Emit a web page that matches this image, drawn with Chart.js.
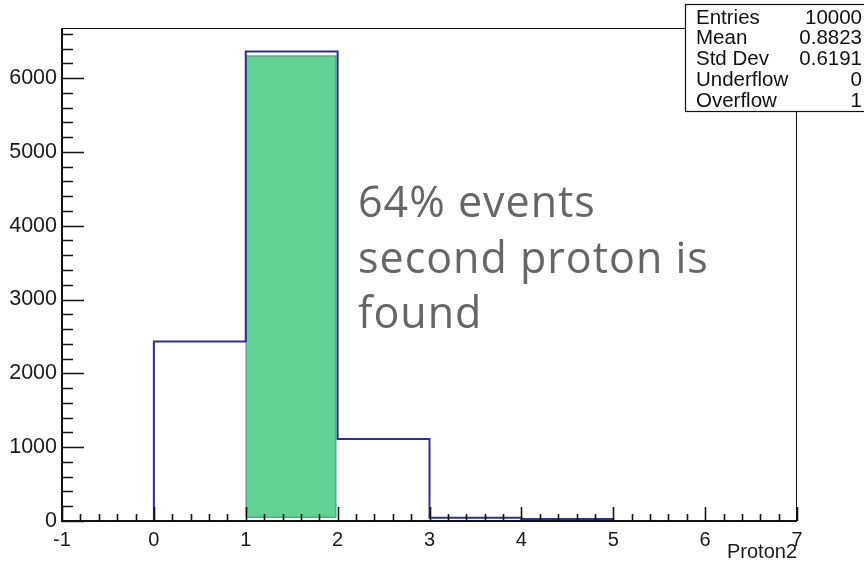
<!DOCTYPE html>
<html>
<head>
<meta charset="utf-8">
<script src="https://cdn.jsdelivr.net/npm/chart.js@4.4.1/dist/chart.umd.min.js"></script>
<style>
  html, body { margin: 0; padding: 0; background: #fff; }
  #wrap { position: relative; width: 864px; height: 564px; }
</style>
</head>
<body>
<div id="wrap"><canvas id="c" width="864" height="564"></canvas></div>
<script>
// Proton2 multiplicity: unit-width bins from -1 to 7
const binLowEdges = [-1, 0, 1, 2, 3, 4, 5, 6];
const binUpperEdge = 7;
const binCounts = [0, 2430, 6360, 1110, 45, 28, 0, 0];

// events in which the second proton is found
const foundBin = [1, 2];
const foundCount = 6300;

// axis ticks
const xTickValues = [-1, 0, 1, 2, 3, 4, 5, 6, 7];
const yTickValues = [0, 1000, 2000, 3000, 4000, 5000, 6000];

// statistics box
const statsLabels = ['Entries', 'Mean', 'Std Dev', 'Underflow', 'Overflow'];
const statsValues = ['10000', '0.8823', '0.6191', '0', '1'];

// annotation
const noteLines = ['64% events', 'second proton is', 'found'];

const AXIS_FONT = '"Liberation Sans", Arial, sans-serif';

// histogram outline as a step line through the bin low edges
const outlinePoints = binLowEdges.map((e, i) => ({ x: e, y: binCounts[i] }))
  .concat([{ x: binUpperEdge, y: 0 }]);

// filled box for the "found" bin, drawn slightly inside the bin
const foundPoints = [
  { x: foundBin[0] + 0.005, y: 50 },
  { x: foundBin[0] + 0.005, y: foundCount },
  { x: foundBin[1] - 0.02, y: foundCount },
  { x: foundBin[1] - 0.02, y: 50 },
  { x: foundBin[0] + 0.005, y: 50 }
];

const yMax = Math.max(...binCounts) * 1.05;

// ROOT-style frame with inward major/minor ticks, stats box and note
const rootDecor = {
  id: 'rootDecor',
  afterDatasetsDraw(chart) {
    const { ctx, chartArea: a, scales: { x, y } } = chart;
    ctx.save();
    ctx.strokeStyle = '#111';
    ctx.lineWidth = 1;
    ctx.strokeRect(a.left + 0.5, a.top + 0.5, a.right - a.left - 1, a.bottom - a.top);

    ctx.lineWidth = 2;
    ctx.beginPath();
    ctx.moveTo(a.left, a.top);
    ctx.lineTo(a.left, a.bottom);
    ctx.lineTo(a.right, a.bottom);
    ctx.stroke();

    // x ticks: majors every 1, minors every 0.2
    ctx.lineWidth = 1.6;
    ctx.beginPath();
    for (let k = 0; k <= Math.round((x.max - x.min) / 0.2); k++) {
      const v = x.min + k * 0.2;
      const major = k % 5 === 0;
      const px = Math.round(x.getPixelForValue(v)) + 0.5;
      ctx.moveTo(px, a.bottom);
      ctx.lineTo(px, a.bottom - (major ? 14 : 7));
    }
    ctx.stroke();

    // y ticks: majors every 1000, minors every 200
    ctx.beginPath();
    for (let k = 0; k * 200 <= y.max; k++) {
      const v = k * 200;
      const major = k % 5 === 0;
      const py = Math.round(y.getPixelForValue(v)) + 0.5;
      ctx.moveTo(a.left, py);
      ctx.lineTo(a.left + (major ? 22 : 11), py);
    }
    ctx.stroke();
    ctx.restore();
  },
  afterDraw(chart) {
    const { ctx } = chart;
    ctx.save();
    // statistics box
    const bx = 685, by = 4, bw = 200, bh = 107;
    ctx.fillStyle = '#fff';
    ctx.fillRect(bx, by, bw, bh);
    ctx.strokeStyle = '#111';
    ctx.lineWidth = 1.2;
    ctx.strokeRect(bx + 0.5, by + 0.5, bw, bh);
    ctx.fillStyle = '#111';
    ctx.font = '20.5px ' + AXIS_FONT;
    ctx.textBaseline = 'middle';
    statsLabels.forEach((lab, i) => {
      const ty = 18 + i * 20.8;
      ctx.textAlign = 'left';
      ctx.fillText(lab, 696, ty);
      ctx.textAlign = 'right';
      ctx.fillText(statsValues[i], 862, ty);
    });

    // annotation text
    ctx.fillStyle = '#666';
    ctx.font = '400 43px "Open Sans", Lato, sans-serif';
    ctx.letterSpacing = '1px';
    ctx.textAlign = 'left';
    ctx.textBaseline = 'alphabetic';
    noteLines.forEach((t, i) => ctx.fillText(t, 358, 217 + i * 55.5));
    ctx.restore();
  }
};

new Chart(document.getElementById('c'), {
  type: 'scatter',
  data: {
    datasets: [
      {
        label: 'Proton2',
        data: outlinePoints,
        showLine: true,
        stepped: 'before',
        borderColor: '#2c2ca0',
        borderWidth: 2,
        pointRadius: 0,
        fill: false
      },
      {
        label: 'found',
        data: foundPoints,
        showLine: true,
        borderColor: '#4fb37f',
        borderWidth: 1.5,
        backgroundColor: '#62d196',
        pointRadius: 0,
        fill: 'shape'
      }
    ]
  },
  options: {
    responsive: false,
    animation: false,
    events: [],
    layout: { padding: { top: 28, right: 67, bottom: 0, left: 0 } },
    plugins: { legend: { display: false }, tooltip: { enabled: false } },
    scales: {
      x: {
        type: 'linear',
        min: -1,
        max: 7,
        grid: { display: false, drawTicks: false },
        border: { display: false },
        afterBuildTicks: s => { s.ticks = xTickValues.map(v => ({ value: v })); },
        afterFit: s => { s.height = 43; },
        ticks: {
          padding: 7, color: '#1a1a1a', maxRotation: 0, autoSkip: false,
          font: { family: AXIS_FONT, size: 20 },
          callback: v => String(v)
        },
        title: {
          display: true, text: 'Proton2', align: 'end', color: '#1a1a1a',
          font: { family: AXIS_FONT, size: 20 },
          padding: { top: 0, bottom: 0 }
        }
      },
      y: {
        type: 'linear',
        min: 0,
        max: yMax,
        grid: { display: false, drawTicks: false },
        border: { display: false },
        afterBuildTicks: s => { s.ticks = yTickValues.map(v => ({ value: v })); },
        afterFit: s => { s.width = 62; },
        ticks: {
          padding: 5, color: '#1a1a1a', autoSkip: false,
          font: { family: AXIS_FONT, size: 21.5 },
          callback: v => String(v)
        }
      }
    }
  },
  plugins: [rootDecor]
});
</script>
</body>
</html>
